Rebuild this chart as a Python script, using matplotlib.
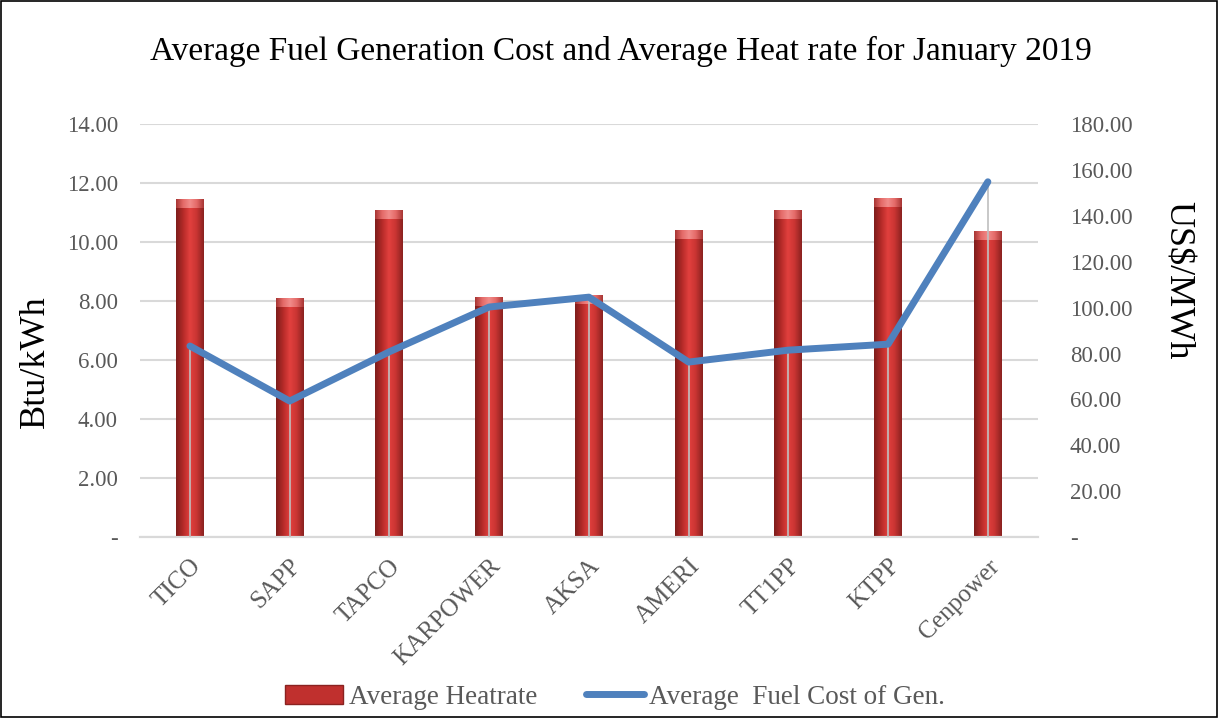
import numpy as np
import matplotlib.pyplot as plt
from matplotlib.colors import LinearSegmentedColormap
from matplotlib.lines import Line2D
from matplotlib.patches import Patch

plants = ["TICO", "SAPP", "TAPCO", "KARPOWER", "AKSA", "AMERI", "TT1PP", "KTPP", "Cenpower"]
heatrate = [11.47, 8.10, 11.10, 8.15, 8.20, 10.40, 11.10, 11.50, 10.37]
fuel_cost = [83.3, 59.3, 80.8, 100.3, 104.6, 76.3, 81.5, 84.1, 154.9]

left_ticks = np.arange(0, 16, 2)
right_ticks = np.arange(0, 200, 20)

plt.rcParams["font.family"] = ["Liberation Serif", "DejaVu Serif"]
grey = "#595959"

fig = plt.figure(figsize=(12.18, 7.18), dpi=100)
fig.patches.append(plt.Rectangle((0.001, 0.001), 0.998, 0.998, transform=fig.transFigure,
                                 fill=False, edgecolor="black", linewidth=1.2))
ax = fig.add_axes([0.115, 0.252, 0.737, 0.575])
ax2 = ax.twinx()

x = np.arange(len(plants))
bars = ax.bar(x, heatrate, width=0.28, color="#C0302E", zorder=2)

# cylinder-like shading for each bar, with a lighter cap on top
shade = LinearSegmentedColormap.from_list(
    "cyl", ["#7E1E1C", "#B42A28", "#E2403E", "#C83432", "#8A2220"])
cap = LinearSegmentedColormap.from_list(
    "cap", ["#A83634", "#E46A68", "#F28C8A", "#E46A68", "#A83634"])
grad = np.linspace(0, 1, 64).reshape(1, -1)
for b in bars:
    x0, w, h = b.get_x(), b.get_width(), b.get_height()
    im = ax.imshow(grad, cmap=shade, aspect="auto", extent=(x0, x0 + w, 0, h), zorder=2.1)
    im.set_clip_path(b)
    top = ax.bar(x0 + w / 2, 0.3, bottom=h - 0.3, width=w, color="none", zorder=2.2)[0]
    im2 = ax.imshow(grad, cmap=cap, aspect="auto", extent=(x0, x0 + w, h - 0.3, h), zorder=2.2)
    im2.set_clip_path(top)

ax.set_xlim(-0.5, len(plants) - 0.5)
ax.set_ylim(0, 14)
ax.set_yticks(left_ticks)
ax.set_yticklabels(["-"] + [f"{v:.2f}" for v in left_ticks[1:]])
ax.yaxis.grid(True, color="#D9D9D9", linewidth=1.5, zorder=0)
ax.set_axisbelow(True)
ax.set_xticks(x)
ax.set_xticklabels(plants, rotation=45, ha="right", rotation_mode="anchor")
ax.tick_params(axis="x", length=0, labelsize=18, labelcolor=grey, pad=13)
ax.tick_params(axis="y", length=0, labelsize=16.5, labelcolor=grey, pad=16)
ax.set_ylabel("Btu/kWh", fontsize=26, va="center")
ax.yaxis.set_label_coords(-0.117, 0.426)

ax2.set_ylim(0, 180)
ax2.set_yticks(right_ticks)
ax2.set_yticklabels(["-"] + [f"{v:.2f}" for v in right_ticks[1:]])
ax2.tick_params(axis="y", length=0, labelsize=16.5, labelcolor=grey, pad=23)
ax2.set_ylabel("US$/MWh", fontsize=26, rotation=270, va="center")
ax2.yaxis.set_label_coords(1.155, 0.622)

# drop lines from line points to the axis
ax2.vlines(x, 0, fuel_cost, color="#BFBFBF", linewidth=1.2, zorder=3)
ax2.plot(x, fuel_cost, color="#4F81BD", linewidth=5, solid_capstyle="round",
         solid_joinstyle="round", zorder=4)

for a in (ax, ax2):
    for side in ("top", "left", "right"):
        a.spines[side].set_visible(False)
    a.spines["bottom"].set_color("#D9D9D9")
    a.spines["bottom"].set_linewidth(1.5)

fig.suptitle("Average Fuel Generation Cost and Average Heat rate for January 2019",
             fontsize=24, x=0.51, y=0.95)

handles = [Patch(facecolor="#C0302E", edgecolor="#8A2220"),
           Line2D([0], [0], color="#4F81BD", linewidth=5, solid_capstyle="round")]
fig.legend(handles, ["Average Heatrate", "Average  Fuel Cost of Gen."], loc="center",
           bbox_to_anchor=(0.505, 0.029), ncol=2, frameon=False, fontsize=19.5,
           labelcolor=grey, handlelength=2.15, handletextpad=0.2, columnspacing=1.8)

fig.savefig("out.png", dpi=100)
